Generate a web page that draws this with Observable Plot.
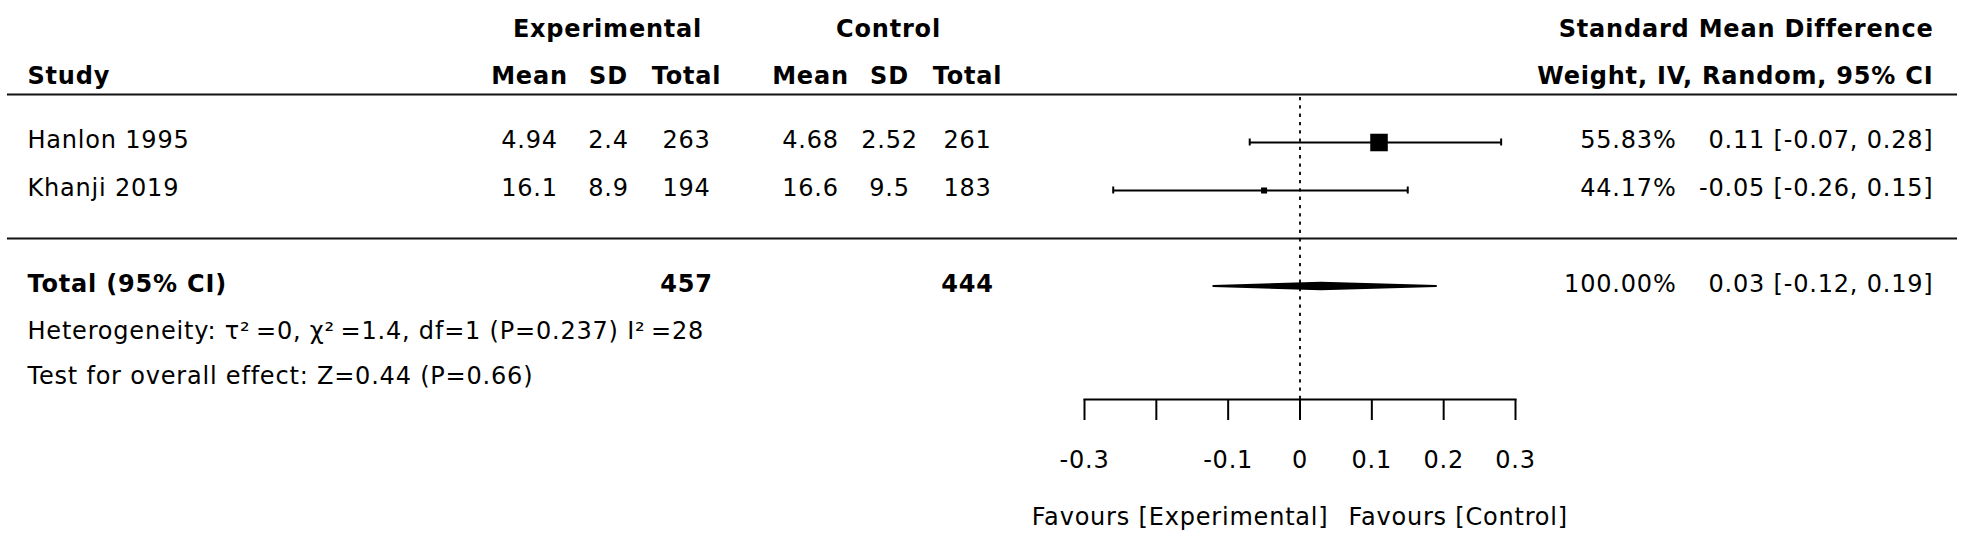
<!DOCTYPE html>
<html>
<head>
<meta charset="utf-8">
<script src="https://cdn.jsdelivr.net/npm/d3@7"></script>
<script src="https://cdn.jsdelivr.net/npm/@observablehq/plot@0.6"></script>
<style>
  html, body { margin: 0; padding: 0; background: #fff; }
  #chart svg text { letter-spacing: 0.8px; }
</style>
</head>
<body>
<div id="chart"></div>
<script>
// ---- data ----
const studies   = ["Hanlon 1995", "Khanji 2019"];
const expMean   = [4.94, 16.1];
const expSD     = [2.4, 8.9];
const expTotal  = [263, 194];
const ctlMean   = [4.68, 16.6];
const ctlSD     = [2.52, 9.5];
const ctlTotal  = [261, 183];
const smd       = [0.11, -0.05];
const ciLow     = [-0.07, -0.26];
const ciHigh    = [0.28, 0.15];
const weights   = [55.83, 44.17];
const pooledEst = [0.03];
const pooledLow = [-0.12];
const pooledHigh = [0.19];
const totalExp  = [457];
const totalCtl  = [444];
const totalWeight = ["100.00%"];
const heterogeneity = ["Heterogeneity: \u03C4\u00B2\u2009=0, \u03C7\u00B2\u2009=1.4, df=1 (P=0.237) I\u00B2\u2009=28"];
const overallTest   = ["Test for overall effect: Z=0.44 (P=0.66)"];
const tickValues = [-0.3, -0.2, -0.1, 0, 0.1, 0.2, 0.3];
const tickLabels = ["-0.3", "", "-0.1", "0", "0.1", "0.2", "0.3"];
const favourLabels = ["Favours [Experimental]", "Favours [Control]"];

// ---- layout ----
const W = 1962, H = 544;
const ML = 1084, MR = 447, MT = 94, MB = 145;
const ROW = 48;
const fmtCI = (e, l, h) => `${e.toFixed(2)} [${l.toFixed(2)}, ${h.toFixed(2)}]`;

const rows = studies.map((s, i) => ({
  row: i, study: s,
  expMean: String(expMean[i]), expSD: String(expSD[i]), expTotal: String(expTotal[i]),
  ctlMean: String(ctlMean[i]), ctlSD: String(ctlSD[i]), ctlTotal: String(ctlTotal[i]),
  est: smd[i], lo: ciLow[i], hi: ciHigh[i], weight: weights[i],
  weightLabel: weights[i].toFixed(2) + "%",
  ciLabel: fmtCI(smd[i], ciLow[i], ciHigh[i])
}));
const sepRow = studies.length;
const totalRow = studies.length + 1;
const diamondH = 3.2 / ROW;
const diamond = [
  {x: pooledLow[0],  y1: totalRow, y2: totalRow},
  {x: pooledEst[0],  y1: totalRow - diamondH, y2: totalRow + diamondH},
  {x: pooledHigh[0], y1: totalRow, y2: totalRow}
];

// column anchors (px) converted to offsets from the frame edges
const L = px => px - ML;          // from frame left
const R = px => px - (W - MR);    // from frame right
const TXT = {fontSize: 24, dy: -2.5};
const HEAD = {frameAnchor: "top-left", textAnchor: "middle", fontWeight: "bold", fontSize: 24};

const colText = (field, px) => Plot.text(rows, {y: "row", text: field, frameAnchor: "left", dx: L(px), textAnchor: "middle", ...TXT});

const chart = Plot.plot({
  width: W, height: H,
  marginLeft: ML, marginRight: MR, marginTop: MT, marginBottom: MB,
  style: {fontFamily: "'DejaVu Sans', sans-serif", fontSize: "24px", background: "white", color: "black"},
  x: {domain: d3.extent(tickValues), axis: null},
  y: {domain: [-1, totalRow + 2], range: [MT, MT + ROW * (totalRow + 3)], axis: null},
  r: {type: "linear", domain: d3.extent(weights), range: [3.4, 9.9]},
  marks: [
    // header texts
    Plot.text(["Experimental"], {...HEAD, dx: L(607), dy: -75}),
    Plot.text(["Control"], {...HEAD, dx: L(888), dy: -75}),
    Plot.text(["Study"], {...HEAD, textAnchor: "start", dx: L(27), dy: -28}),
    Plot.text(["Mean"], {...HEAD, dx: L(529), dy: -28}),
    Plot.text(["SD"], {...HEAD, dx: L(608), dy: -28}),
    Plot.text(["Total"], {...HEAD, dx: L(686), dy: -28}),
    Plot.text(["Mean"], {...HEAD, dx: L(810), dy: -28}),
    Plot.text(["SD"], {...HEAD, dx: L(889), dy: -28}),
    Plot.text(["Total"], {...HEAD, dx: L(967), dy: -28}),
    Plot.text(["Standard Mean Difference"], {frameAnchor: "top-right", dx: R(1933), dy: -75, textAnchor: "end", fontWeight: "bold", fontSize: 24}),
    Plot.text(["Weight, IV, Random, 95% CI"], {frameAnchor: "top-right", dx: R(1933), dy: -28, textAnchor: "end", fontWeight: "bold", fontSize: 24}),

    // separator rules
    Plot.ruleY([-1, sepRow], {strokeWidth: 2, stroke: "#111", insetLeft: -(ML - 7), insetRight: -(1957 - (W - MR))}),

    // null line
    Plot.ruleX([0], {strokeDasharray: "3.3,5", strokeWidth: 1.8, insetTop: 3}),

    // study rows
    Plot.text(rows, {y: "row", text: "study", frameAnchor: "left", dx: L(27), textAnchor: "start", ...TXT}),
    colText("expMean", 529), colText("expSD", 608), colText("expTotal", 686),
    colText("ctlMean", 810), colText("ctlSD", 889), colText("ctlTotal", 967),
    Plot.text(rows, {y: "row", text: "weightLabel", frameAnchor: "right", dx: R(1676), textAnchor: "end", ...TXT}),
    Plot.text(rows, {y: "row", text: "ciLabel", frameAnchor: "right", dx: R(1933), textAnchor: "end", ...TXT}),

    // confidence intervals
    Plot.ruleY(rows, {y: "row", x1: "lo", x2: "hi", strokeWidth: 2}),
    Plot.ruleX(rows, {x: "lo", y1: "row", y2: "row", insetTop: -3.5, insetBottom: -3.5, strokeWidth: 2}),
    Plot.ruleX(rows, {x: "hi", y1: "row", y2: "row", insetTop: -3.5, insetBottom: -3.5, strokeWidth: 2}),
    Plot.dot(rows, {x: "est", y: "row", r: "weight", symbol: "square", fill: "black", stroke: null}),

    // total row
    Plot.text(["Total (95% CI)"], {y: () => totalRow, frameAnchor: "left", dx: L(27), textAnchor: "start", fontWeight: "bold", ...TXT}),
    Plot.text(totalExp, {y: () => totalRow, text: d => String(d), frameAnchor: "left", dx: L(686), textAnchor: "middle", fontWeight: "bold", ...TXT}),
    Plot.text(totalCtl, {y: () => totalRow, text: d => String(d), frameAnchor: "left", dx: L(967), textAnchor: "middle", fontWeight: "bold", ...TXT}),
    Plot.text(totalWeight, {y: () => totalRow, frameAnchor: "right", dx: R(1676), textAnchor: "end", ...TXT}),
    Plot.text(pooledEst, {y: () => totalRow, text: (d, i) => fmtCI(d, pooledLow[i], pooledHigh[i]), frameAnchor: "right", dx: R(1933), textAnchor: "end", ...TXT}),
    Plot.areaY(diamond, {x: "x", y1: "y1", y2: "y2", fill: "black", stroke: "black", strokeWidth: 2}),

    // footnotes
    Plot.text(heterogeneity, {y: () => totalRow + 1, frameAnchor: "left", dx: L(27), textAnchor: "start", fontSize: 24, dy: -3}),
    Plot.text(overallTest, {y: () => totalRow + 2, frameAnchor: "left", dx: L(27), textAnchor: "start", fontSize: 24, dy: -6}),

    // x axis
    Plot.frame({anchor: "bottom", strokeWidth: 2}),
    Plot.axisX({
      anchor: "bottom", ticks: tickValues,
      tickFormat: d => tickLabels[tickValues.indexOf(d)],
      tickSize: 21, tickPadding: 30, fontSize: 24, strokeWidth: 2
    }),
    Plot.text([favourLabels[0]], {frameAnchor: "bottom", dx: 28.5, dy: 125, textAnchor: "end", fontSize: 24}),
    Plot.text([favourLabels[1]], {frameAnchor: "bottom", dx: 48.5, dy: 125, textAnchor: "start", fontSize: 24})
  ]
});
document.getElementById("chart").appendChild(chart);
</script>
</body>
</html>
